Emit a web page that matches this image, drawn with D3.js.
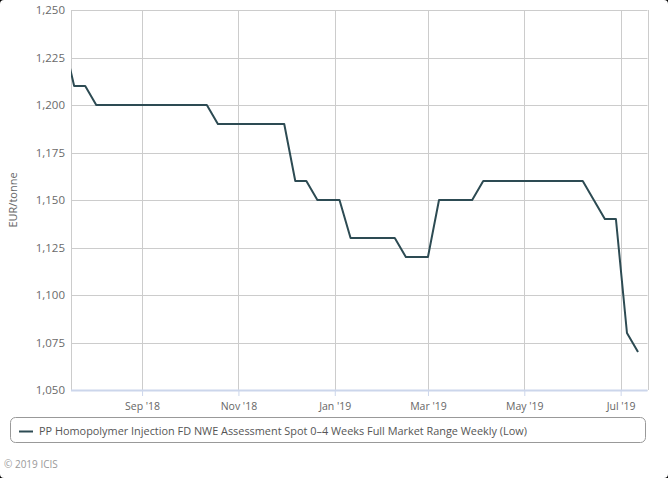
<!DOCTYPE html>
<html><head><meta charset="utf-8">
<script src="https://cdn.jsdelivr.net/npm/d3@7"></script>
<style>
html,body{margin:0;padding:0;background:#000;}
svg{display:block;}
text{font-family:"Open Sans",sans-serif;}
</style></head>
<body>
<svg id="chart" width="668" height="478"></svg>
<script>
const dates = ["2018-07-13","2018-07-20","2018-07-27","2018-08-03","2018-08-10","2018-08-17","2018-08-24","2018-08-31",
"2018-09-07","2018-09-14","2018-09-21","2018-09-28","2018-10-05","2018-10-12","2018-10-19","2018-10-26",
"2018-11-02","2018-11-09","2018-11-16","2018-11-23","2018-11-30","2018-12-07","2018-12-14","2018-12-21","2018-12-28",
"2019-01-04","2019-01-11","2019-01-18","2019-01-25","2019-02-01","2019-02-08","2019-02-15","2019-02-22",
"2019-03-01","2019-03-08","2019-03-15","2019-03-22","2019-03-29","2019-04-05","2019-04-12","2019-04-19","2019-04-26",
"2019-05-03","2019-05-10","2019-05-17","2019-05-24","2019-05-31","2019-06-07","2019-06-14","2019-06-21","2019-06-28",
"2019-07-05","2019-07-12"];
const values = [1235,1210,1210,1200,1200,1200,1200,1200,
1200,1200,1200,1200,1200,1200,1190,1190,
1190,1190,1190,1190,1190,1160,1160,1150,1150,
1150,1130,1130,1130,1130,1130,1120,1120,
1120,1150,1150,1150,1150,1160,1160,1160,1160,
1160,1160,1160,1160,1160,1160,1150,1140,1140,
1080,1070];
const xDomain = ["2018-07-18","2019-07-18"];
const xTicks = ["2018-09-01","2018-11-01","2019-01-01","2019-03-01","2019-05-01","2019-07-01"];
const yTicks = [1050,1075,1100,1125,1150,1175,1200,1225,1250];
const seriesName = "PP Homopolymer Injection FD NWE Assessment Spot 0–4 Weeks Full Market Range Weekly (Low)";
const yTitle = "EUR/tonne";
const credit = "© 2019 ICIS";

const parse = d3.utcParse("%Y-%m-%d");
const data = dates.map((d,i)=>({date:parse(d), v:values[i]}));

const W=668,H=478;
const L=71,R=647.5,T=10,B=390;
const svg=d3.select("#chart");
svg.append("rect").attr("x",0).attr("y",0).attr("width",W).attr("height",H).attr("rx",4).attr("fill","#fff");

const x=d3.scaleUtc().domain(xDomain.map(parse)).range([L,R]);
const y=d3.scaleLinear().domain([1050,1250]).range([B,T]);

// grid
const g=svg.append("g");
g.selectAll(".hg").data(yTicks).join("line")
 .attr("x1",L).attr("x2",R).attr("y1",d=>Math.round(y(d))+0.5).attr("y2",d=>Math.round(y(d))+0.5)
 .attr("stroke","#cccccc").attr("stroke-width",1);
g.selectAll(".vg").data(xTicks.map(parse)).join("line")
 .attr("x1",d=>Math.round(x(d))+0.5).attr("x2",d=>Math.round(x(d))+0.5).attr("y1",T).attr("y2",B)
 .attr("stroke","#cccccc").attr("stroke-width",1);
g.append("line").attr("x1",L+0.5).attr("x2",L+0.5).attr("y1",T).attr("y2",B).attr("stroke","#cccccc");
g.append("line").attr("x1",Math.round(R)+0.5).attr("x2",Math.round(R)+0.5).attr("y1",T).attr("y2",B).attr("stroke","#cccccc");

// x axis
const xAxis=d3.axisBottom(x).tickValues(xTicks.map(parse)).tickSize(6).tickPadding(7)
 .tickFormat(d=>d3.utcFormat("%b")(d)+" '"+d3.utcFormat("%y")(d));
const xa=svg.append("g").attr("transform",`translate(0,${B})`).call(xAxis);
xa.select(".domain").attr("stroke","#ccd6eb").attr("stroke-width",2).attr("d",`M${L},0.5H${R}`);
xa.selectAll(".tick line").attr("stroke","#ccd6eb");
xa.selectAll(".tick text").attr("fill","#666").attr("font-size","10.5px").attr("font-family","Open Sans");

// y axis
const yAxis=d3.axisLeft(y).tickValues(yTicks).tickSize(0).tickPadding(6).tickFormat(d3.format(","));
const ya=svg.append("g").attr("transform",`translate(${L},0)`).call(yAxis);
ya.select(".domain").remove();
ya.selectAll(".tick text").attr("fill","#6a6a6a").attr("font-size","11.5px").attr("font-family","Open Sans");

svg.append("text").attr("transform",`translate(17,${(T+B)/2}) rotate(-90)`).attr("text-anchor","middle")
 .attr("fill","#666").attr("font-size","11px").text(yTitle);

// clip
svg.append("clipPath").attr("id","clip").append("rect").attr("x",L).attr("y",T).attr("width",R-L).attr("height",B-T);
const line=d3.line().x(d=>x(d.date)).y(d=>y(d.v));
svg.append("path").datum(data).attr("clip-path","url(#clip)").attr("d",line)
 .attr("fill","none").attr("stroke","#2d4b53").attr("stroke-width",2).attr("stroke-linejoin","round");

// legend
svg.append("rect").attr("x",10.5).attr("y",417.5).attr("width",635).attr("height",25).attr("rx",5)
 .attr("fill","#fff").attr("stroke","#999").attr("stroke-width",1);
svg.append("line").attr("x1",19).attr("x2",33).attr("y1",431.5).attr("y2",431.5).attr("stroke","#2d4b53").attr("stroke-width",2);
svg.append("text").attr("x",39).attr("y",435).attr("fill","#555").attr("font-size","10.9px").text(seriesName);

svg.append("text").attr("x",4).attr("y",468).attr("fill","#999").attr("font-size","10px").text(credit);
</script>
</body></html>
